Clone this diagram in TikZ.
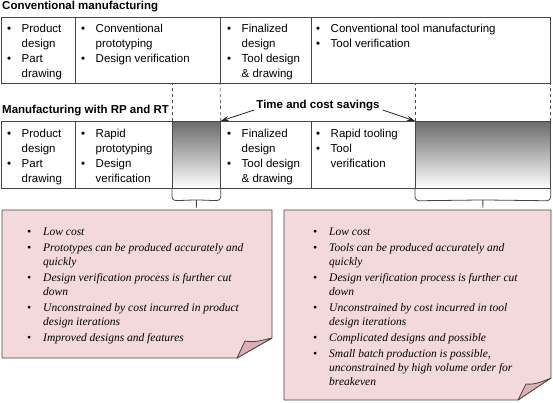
\documentclass[tikz,border=0pt]{standalone}
\usepackage{fontspec}
\setmainfont{Liberation Serif}
\setsansfont{Liberation Sans}
\usetikzlibrary{arrows.meta}

\definecolor{notepink}{RGB}{243,217,219}
\definecolor{flappink}{RGB}{222,176,180}
\definecolor{edgegray}{RGB}{70,70,70}

\newcommand{\boxitems}[1]{\begin{tabular}{@{}l@{\hspace{10.5pt}}l@{}}#1\end{tabular}}
\newcommand{\noteitems}[1]{\begin{tabular}{@{}l@{\hspace{12pt}}l@{}}#1\end{tabular}}

\tikzset{
  cell/.style={draw=edgegray, line width=0.8pt, anchor=north west, inner sep=0pt},
  shadecell/.style={cell, top color=black!58, bottom color=white},
  celltext/.style={anchor=north west, inner sep=0pt, font=\sffamily\fontsize{11.5}{15}\selectfont},
  heading/.style={inner sep=0pt, font=\sffamily\bfseries\fontsize{11.5}{14}\selectfont},
  note/.style={fill=notepink, draw=edgegray, line width=0.8pt, line join=round},
  flap/.style={fill=flappink, draw=edgegray, line width=0.8pt, line join=round},
  notetext/.style={anchor=north west, inner sep=0pt, font=\rmfamily\itshape\fontsize{11.5}{14}\selectfont},
  gapline/.style={draw=edgegray, dashed, line width=0.7pt},
  bracket/.style={draw=edgegray, line width=0.8pt, rounded corners=4pt},
  saving/.style={-{Stealth[length=8pt,width=5pt]}, line width=0.8pt, draw=black!85}
}

\begin{document}
\begin{tikzpicture}[x=1pt,y=-1pt]
\useasboundingbox (0,0) rectangle (553,402);

% conventional route
\node[heading, anchor=west] (hconv) at (2,7) {Conventional manufacturing};
\node[cell, minimum width=74pt, minimum height=66pt] (c1) at (1,17) {};
\node[cell, minimum width=145pt, minimum height=66pt] (c2) at (75,17) {};
\node[cell, minimum width=91pt, minimum height=66pt] (c3) at (220,17) {};
\node[cell, minimum width=239pt, minimum height=66pt] (c4) at (311,17) {};

\node[celltext] (c1t) at ([shift={(6,4.5)}]c1.north west) {\boxitems{\textbullet & Product\\ & design\\ \textbullet & Part\\ & drawing}};
\node[celltext] (c2t) at ([shift={(6,4.5)}]c2.north west) {\boxitems{\textbullet & Conventional\\ & prototyping\\ \textbullet & Design verification}};
\node[celltext] (c3t) at ([shift={(7,4.5)}]c3.north west) {\boxitems{\textbullet & Finalized\\ & design\\ \textbullet & Tool design\\ & \& drawing}};
\node[celltext] (c4t) at ([shift={(5,4.5)}]c4.north west) {\boxitems{\textbullet & Conventional tool manufacturing\\ \textbullet & Tool verification}};

% RP and RT route
\node[heading, anchor=west] (hrp) at (2,111) {Manufacturing with RP and RT};
\node[cell, minimum width=74pt, minimum height=67pt] (r1) at (1,121) {};
\node[cell, minimum width=97pt, minimum height=67pt] (r2) at (75,121) {};
\node[shadecell, minimum width=48pt, minimum height=67pt] (g1) at (172,121) {};
\node[cell, minimum width=91pt, minimum height=67pt] (r3) at (220,121) {};
\node[cell, minimum width=104pt, minimum height=67pt] (r4) at (311,121) {};
\node[shadecell, minimum width=135pt, minimum height=67pt] (g2) at (415,121) {};

\node[celltext] (r1t) at ([shift={(6,5.5)}]r1.north west) {\boxitems{\textbullet & Product\\ & design\\ \textbullet & Part\\ & drawing}};
\node[celltext] (r2t) at ([shift={(6,5.5)}]r2.north west) {\boxitems{\textbullet & Rapid\\ & prototyping\\ \textbullet & Design\\ & verification}};
\node[celltext] (r3t) at ([shift={(7,5.5)}]r3.north west) {\boxitems{\textbullet & Finalized\\ & design\\ \textbullet & Tool design\\ & \& drawing}};
\node[celltext] (r4t) at ([shift={(5,5.5)}]r4.north west) {\boxitems{\textbullet & Rapid tooling\\ \textbullet & Tool\\ & verification}};

% savings
\draw[gapline] (g1.north west) -- (g1.north west |- c2.south);
\draw[gapline] (g1.north east) -- (c3.south west);
\draw[gapline] (g2.north west) -- (g2.north west |- c4.south);
\draw[gapline] (g2.north east) -- (c4.south east);

\node[heading] (tcs) at (318,106) {Time and cost savings};
\draw[saving] ([shift={(-2,4)}]tcs.west) -- (g1.north east);
\draw[saving] ([shift={(3,4)}]tcs.east) -- (g2.north west);

% notes
\coordinate (ntop) at (0,210);
\coordinate (lbtip) at (g1.south |- ntop);
\coordinate (rbtip) at (g2.south |- ntop);

\filldraw[note] (2,210) -- (272,210) -- (272,338) -- (237,358) -- (2,358) -- cycle;
\filldraw[flap] (237,358) -- (245,341) .. controls (254,343) and (263,340) .. (272,338) -- cycle;
\filldraw[note] (284,210) -- (551,210) -- (551,378) -- (518,400) -- (284,400) -- cycle;
\filldraw[flap] (518,400) -- (526,384) .. controls (535,385) and (544,381) .. (551,378) -- cycle;

\draw[bracket] (g1.south west) -- ++(0,12) -- ([shift={(-4,-10)}]lbtip) to[out=0,in=90] (lbtip)
  to[out=90,in=180] ([shift={(4,-10)}]lbtip) -- ([yshift=-12pt]g1.south east) -- (g1.south east);
\draw[bracket] (g2.south west) -- ++(0,12) -- ([shift={(-4,-10)}]rbtip) to[out=0,in=90] (rbtip)
  to[out=90,in=180] ([shift={(4,-10)}]rbtip) -- ([yshift=-12pt]g2.south east) -- (g2.south east);

\node[notetext] (n1t) at (27,225) {\noteitems{%
\textbullet & Low cost\\[2pt]
\textbullet & Prototypes can be produced accurately and\\
 & quickly\\[2pt]
\textbullet & Design verification process is further cut\\
 & down\\[2pt]
\textbullet & Unconstrained by cost incurred in product\\
 & design iterations\\[2pt]
\textbullet & Improved designs and features}};

\node[notetext] (n2t) at (313,225) {\noteitems{%
\textbullet & Low cost\\[2pt]
\textbullet & Tools can be produced accurately and\\
 & quickly\\[2pt]
\textbullet & Design verification process is further cut\\
 & down\\[2pt]
\textbullet & Unconstrained by cost incurred in tool\\
 & design iterations\\[2pt]
\textbullet & Complicated designs and possible\\[2pt]
\textbullet & Small batch production is possible,\\
 & unconstrained by high volume order for\\
 & breakeven}};
\end{tikzpicture}
\end{document}
